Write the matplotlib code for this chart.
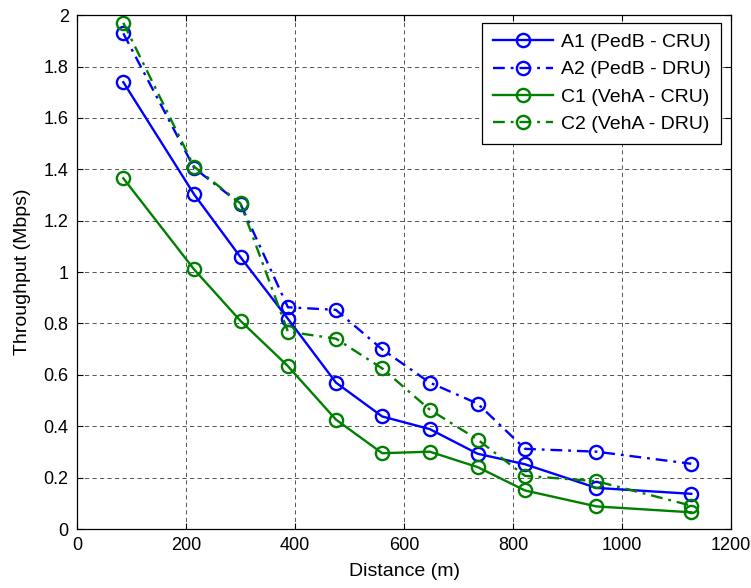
import matplotlib
matplotlib.use("Agg")
import matplotlib.pyplot as plt
from matplotlib.ticker import MultipleLocator

# data
distance = [85, 215, 300, 387, 475, 560, 647, 735, 822, 953, 1127]
a1_pedb_cru = [1.739, 1.302, 1.058, 0.818, 0.570, 0.438, 0.389, 0.293, 0.252, 0.160, 0.137]
a2_pedb_dru = [1.929, 1.405, 1.265, 0.863, 0.853, 0.699, 0.570, 0.488, 0.312, 0.301, 0.254]
c1_veha_cru = [1.365, 1.010, 0.810, 0.634, 0.426, 0.295, 0.301, 0.241, 0.150, 0.088, 0.065]
c2_veha_dru = [1.970, 1.410, 1.267, 0.768, 0.741, 0.625, 0.465, 0.348, 0.207, 0.186, 0.091]
labels = ["A1 (PedB - CRU)", "A2 (PedB - DRU)", "C1 (VehA - CRU)", "C2 (VehA - DRU)"]
yticks = [0, 0.2, 0.4, 0.6, 0.8, 1, 1.2, 1.4, 1.6, 1.8, 2]
yticklabels = ["0", "0.2", "0.4", "0.6", "0.8", "1", "1.2", "1.4", "1.6", "1.8", "2"]

plt.rc('font', family=['Liberation Sans', 'DejaVu Sans'])
plt.rc('font', size=13)

fig = plt.figure(figsize=(7.51, 5.88), dpi=100)
ax = fig.add_axes([0.1025, 0.1003, 0.871, 0.874])

blue = (0, 0, 1)
green = (0, 0.5, 0)
dashdot = (0, (5, 2.5, 1.2, 2.5))
style = dict(marker='o', markersize=9.5, markerfacecolor='none', markeredgewidth=1.7, linewidth=1.7)

ax.plot(distance, a1_pedb_cru, color=blue, linestyle='-', label=labels[0], **style)
ax.plot(distance, a2_pedb_dru, color=blue, linestyle=dashdot, label=labels[1], **style)
ax.plot(distance, c1_veha_cru, color=green, linestyle='-', label=labels[2], **style)
ax.plot(distance, c2_veha_dru, color=green, linestyle=dashdot, label=labels[3], **style)

ax.set_xlim(0, 1200)
ax.set_ylim(0, 2)
ax.xaxis.set_major_locator(MultipleLocator(200))
ax.set_yticks(yticks)
ax.set_yticklabels(yticklabels)

ax.grid(True, linestyle=(0, (5, 4)), color='#3a3a3a', linewidth=0.6)
ax.tick_params('both', direction='in', top=True, right=True, length=4, width=0.8, pad=6, labelsize=13)
for s in ax.spines.values():
    s.set_linewidth(0.9)

ax.set_xlabel("Distance (m)", labelpad=6, fontsize=14)
ax.set_ylabel("Throughput (Mbps)", labelpad=9, fontsize=14)

leg = ax.legend(loc='upper right', bbox_to_anchor=(0.985, 0.985), fancybox=False,
                framealpha=1, edgecolor='black', handlelength=3.1, handletextpad=0.4,
                borderpad=0.55, labelspacing=0.5, borderaxespad=0.0, fontsize=14)
leg.get_frame().set_linewidth(0.9)

fig.savefig("out.png", dpi=100)
